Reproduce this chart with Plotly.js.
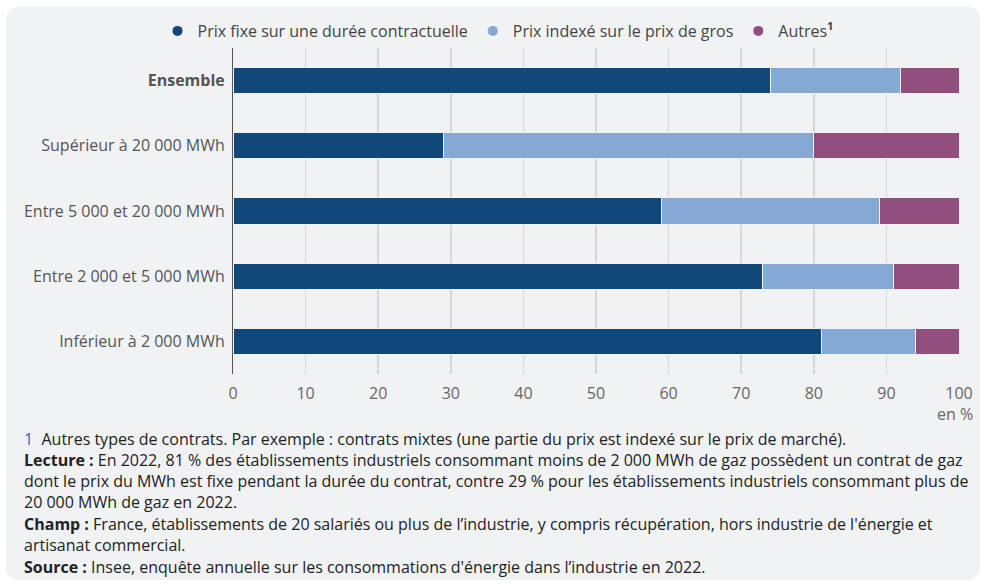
<!DOCTYPE html>
<html>
<head>
<meta charset="utf-8">
<script src="https://cdn.plot.ly/plotly-3.0.1.min.js"></script>
<style>
html,body{margin:0;padding:0;background:#ffffff;}
#panel{position:absolute;left:6px;top:7px;width:974px;height:573px;background:#f1f2f4;border-radius:12px;}
#chart{position:absolute;left:0;top:0;width:983px;height:586px;}
</style>
</head>
<body>
<div id="panel"></div>
<div id="chart"></div>
<script>
const categories = ["Ensemble","Supérieur à 20 000 MWh","Entre 5 000 et 20 000 MWh","Entre 2 000 et 5 000 MWh","Inférieur à 2 000 MWh"];
const categoryLabels = ["<b>Ensemble</b>","Supérieur à 20 000 MWh","Entre 5 000 et 20 000 MWh","Entre 2 000 et 5 000 MWh","Inférieur à 2 000 MWh"];
const prixFixe = [74, 29, 59, 73, 81];
const prixIndexe = [18, 51, 30, 18, 13];
const autres = [8, 20, 11, 9, 6];
const seriesNames = ["Prix fixe sur une durée contractuelle","Prix indexé sur le prix de gros","Autres<sup><b>1</b></sup>"];
const xTicks = [0,10,20,30,40,50,60,70,80,90,100];

const colors = ["#12477a","#86a8d5","#924e7d"];
const seriesValues = [prixFixe, prixIndexe, autres];

const FONT = "Open Sans, sans-serif";

const traces = seriesValues.map((vals, i) => ({
  type: "bar",
  orientation: "h",
  name: seriesNames[i],
  y: categories,
  x: vals,
  showlegend: false,
  legendgroup: "g" + i,
  marker: {color: colors[i], line: {color: "#f1f2f4", width: 1}},
  hoverinfo: "x+name"
}));
// legend entries with round markers (no visible data)
seriesNames.forEach((nm, i) => {
  traces.push({
    type: "scatter", mode: "markers",
    name: nm, legendgroup: "g" + i,
    x: [null], y: [null],
    marker: {color: colors[i], symbol: "circle", size: 10},
    showlegend: true, hoverinfo: "skip"
  });
});

// layout geometry
const L = 233, R = 24, T = 48, B = 212;
const H = 586 - T - B;
const W = 983 - L - R;
function py(pix){ return (586 - B - pix) / H; }
function px(pix){ return (pix - L) / W; }

const noteFont = {family: FONT, size: 16, color: "#222"};
const notes = [
  {y: 439, text: "<span style='color:#2a6bb8'>1</span>  Autres types de contrats. Par exemple : contrats mixtes (une partie du prix est indexé sur le prix de marché)."},
  {y: 460, text: "<b>Lecture :</b> En 2022, 81 % des établissements industriels consommant moins de 2 000 MWh de gaz possèdent un contrat de gaz"},
  {y: 481, text: "dont le prix du MWh est fixe pendant la durée du contrat, contre 29 % pour les établissements industriels consommant plus de"},
  {y: 502, text: "20 000 MWh de gaz en 2022."},
  {y: 524, text: "<b>Champ :</b> France, établissements de 20 salariés ou plus de l’industrie, y compris récupération, hors industrie de l'énergie et"},
  {y: 545, text: "artisanat commercial."},
  {y: 567, text: "<b>Source :</b> Insee, enquête annuelle sur les consommations d'énergie dans l’industrie en 2022."}
];

const annotations = notes.map(n => ({
  xref: "paper", yref: "paper",
  x: px(22), y: py(n.y),
  xanchor: "left", yanchor: "middle",
  text: n.text, showarrow: false, align: "left",
  font: noteFont
}));
annotations.push({
  xref: "paper", yref: "paper",
  x: px(975), y: py(414),
  xanchor: "right", yanchor: "middle",
  text: "en %", showarrow: false,
  font: {family: FONT, size: 16, color: "#666"}
});

const layout = {
  width: 983, height: 586,
  margin: {l: L, r: R, t: T, b: B},
  paper_bgcolor: "rgba(0,0,0,0)",
  plot_bgcolor: "rgba(0,0,0,0)",
  barmode: "stack",
  bargap: 0.6,
  font: {family: FONT, size: 16, color: "#555"},
  showlegend: true,
  legend: {
    orientation: "h",
    x: px(498), xanchor: "center",
    y: py(31), yanchor: "middle",
    traceorder: "normal",
    font: {family: FONT, size: 16, color: "#444"},
    itemwidth: 30,
    bgcolor: "rgba(0,0,0,0)"
  },
  xaxis: {
    range: [0, 100],
    tickvals: xTicks,
    ticktext: xTicks.map(String),
    showgrid: true,
    gridcolor: "#d6d7d9",
    gridwidth: 1.5,
    zeroline: false,
    showline: false,
    ticks: "",
    tickfont: {family: FONT, size: 16, color: "#666"},
    ticklabelstandoff: 8,
    fixedrange: true
  },
  yaxis: {
    type: "category",
    categoryorder: "array",
    categoryarray: categories,
    tickvals: categories,
    ticktext: categoryLabels,
    autorange: "reversed",
    showline: true,
    linecolor: "#555",
    linewidth: 1,
    showgrid: false,
    zeroline: false,
    ticks: "",
    ticklabelstandoff: 4,
    tickfont: {family: FONT, size: 16, color: "#555"},
    fixedrange: true
  },
  annotations: annotations
};

Plotly.newPlot("chart", traces, layout, {displayModeBar: false, staticPlot: true});
</script>
</body>
</html>
